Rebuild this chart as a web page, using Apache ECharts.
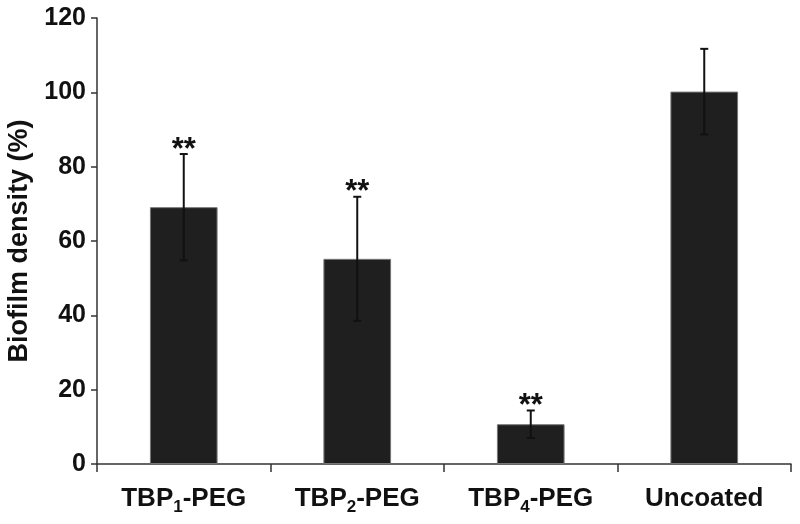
<!DOCTYPE html>
<html>
<head>
<meta charset="utf-8">
<script src="https://cdn.jsdelivr.net/npm/echarts@6/dist/echarts.min.js"></script>
<style>html,body{margin:0;padding:0;background:#fff;}#c{width:800px;height:524px;}</style>
</head>
<body>
<div id="c"></div>
<script>
var categories = ['TBP{sub|1}-PEG', 'TBP{sub|2}-PEG', 'TBP{sub|4}-PEG', 'Uncoated{sub|\u200B}'];
var values = [69.1, 55.2, 10.7, 100.2];
var errors = [14.3, 16.7, 3.7, 11.5];
var marks = ['**', '**', '**', ''];
var yTicks = [0, 20, 40, 60, 80, 100, 120];

var FONT = '"Liberation Sans", Arial, sans-serif';
var chart = echarts.init(document.getElementById('c'));
var errData = values.map(function (v, i) { return [i, v - errors[i], v + errors[i], marks[i]]; });

chart.setOption({
  animation: false,
  grid: { left: 97, right: 9, top: 18, bottom: 60, containLabel: false, outerBoundsMode: 'none' },
  xAxis: {
    type: 'category',
    data: categories,
    boundaryGap: true,
    axisLine: { lineStyle: { color: '#333', width: 1.5 } },
    axisTick: { show: true, length: 8, alignWithLabel: false, lineStyle: { color: '#333', width: 1.5 } },
    axisLabel: {
      interval: 0,
      margin: 18,
      color: '#111',
      fontFamily: FONT,
      fontWeight: 'bold',
      fontSize: 26,
      rich: {
        sub: { fontSize: 17, fontWeight: 'bold', fontFamily: FONT, color: '#111', verticalAlign: 'bottom', padding: [17, 0, 0, 0] }
      }
    }
  },
  yAxis: {
    type: 'value',
    min: 0, max: 120, interval: 20,
    name: 'Biofilm density (%)',
    nameLocation: 'middle',
    nameGap: 64,
    nameTextStyle: { fontFamily: FONT, fontWeight: 'bold', fontSize: 27, color: '#111' },
    splitLine: { show: false },
    axisLine: { show: true, lineStyle: { color: '#333', width: 1.5 } },
    axisTick: { show: true, length: 6, lineStyle: { color: '#333', width: 1.5 } },
    axisLabel: {
      margin: 11,
      color: '#111',
      fontFamily: FONT,
      fontWeight: 'bold',
      fontSize: 25,
      formatter: function (v) { return yTicks.indexOf(v) >= 0 ? String(v) : ''; }
    }
  },
  series: [
    {
      type: 'bar',
      data: values,
      barWidth: '39%',
      itemStyle: { color: '#1f1f1f', borderColor: '#777', borderWidth: 1 }
    },
    {
      type: 'custom',
      data: errData,
      z: 10,
      renderItem: function (params, api) {
        var x = api.value(0);
        var lo = api.coord([x, api.value(1)]);
        var hi = api.coord([x, api.value(2)]);
        var cap = 4;
        var st = { stroke: '#111', lineWidth: 2 };
        var children = [
          { type: 'line', shape: { x1: hi[0], y1: hi[1], x2: lo[0], y2: lo[1] }, style: st },
          { type: 'line', shape: { x1: hi[0] - cap, y1: hi[1], x2: hi[0] + cap, y2: hi[1] }, style: st },
          { type: 'line', shape: { x1: lo[0] - cap, y1: lo[1], x2: lo[0] + cap, y2: lo[1] }, style: st }
        ];
        var m = marks[params.dataIndex];
        if (m) {
          children.push({
            type: 'text',
            style: {
              text: m, x: hi[0], y: hi[1] - 4,
              align: 'center', verticalAlign: 'middle',
              font: 'bold 31px ' + FONT, fill: '#111'
            }
          });
        }
        return { type: 'group', children: children };
      }
    }
  ]
});
</script>
</body>
</html>
